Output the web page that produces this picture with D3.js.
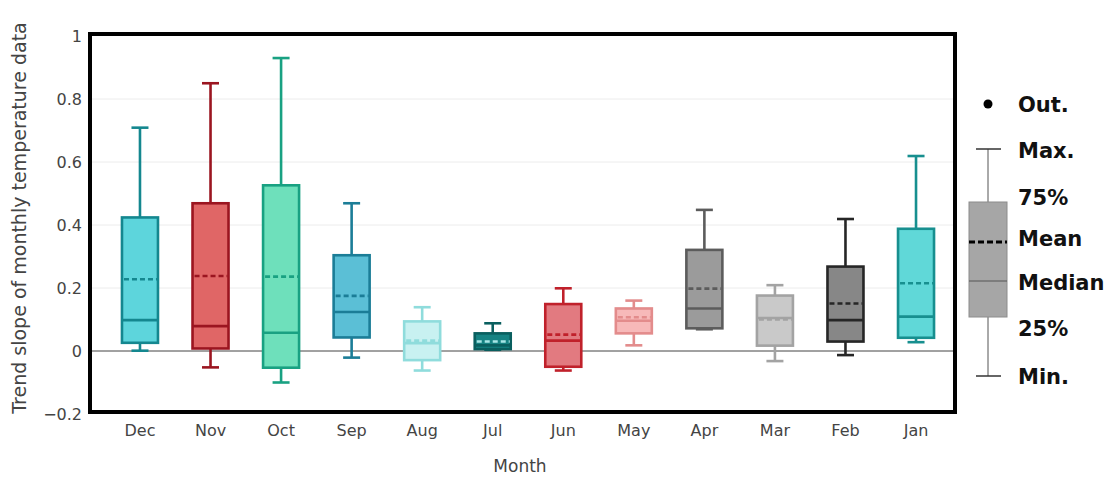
<!DOCTYPE html>
<html><head><meta charset="utf-8">
<script src="https://cdn.jsdelivr.net/npm/d3@7/dist/d3.min.js"></script>
<style>body{margin:0;background:#fff}svg{display:block}</style>
</head><body>
<svg id="c" width="1113" height="477"></svg>
<script>
const months = ["Dec","Nov","Oct","Sep","Aug","Jul","Jun","May","Apr","Mar","Feb","Jan"];
const maxV    = [0.709,0.850,0.930,0.469,0.139,0.088,0.199,0.160,0.448,0.209,0.419,0.619];
const q3V     = [0.424,0.469,0.526,0.304,0.094,0.056,0.149,0.135,0.321,0.176,0.268,0.388];
const meanV   = [0.228,0.238,0.236,0.175,0.033,0.030,0.052,0.107,0.198,0.100,0.151,0.215];
const medianV = [0.098,0.079,0.058,0.124,0.025,0.018,0.033,0.096,0.135,0.105,0.098,0.109];
const q1V     = [0.026,0.008,-0.053,0.043,-0.029,0.006,-0.050,0.056,0.072,0.017,0.030,0.042];
const minV    = [0.001,-0.052,-0.100,-0.021,-0.062,0.004,-0.062,0.018,0.069,-0.032,-0.013,0.028];
const fills   = ["#5dd5dc","#e06666","#6ee0bb","#5bbfd6","#c8f1f1","#168383","#e27a80","#f7b9b9","#9b9b9b","#c9c9c9","#878787","#60d8d8"];
const strokes = ["#14878f","#9b1520","#19a182","#1b7d97","#8fdcdc","#0a5f5f","#c0212b","#e38c8c","#5c5c5c","#a3a3a3","#262626","#178f8f"];
const meanCol = ["#14878f","#9b1520","#19a182","#1b7d97","#8fdcdc","#a8e6e6","#c0212b","#e38c8c","#5c5c5c","#a3a3a3","#262626","#178f8f"];
const yTicks = [-0.2,0,0.2,0.4,0.6,0.8,1];
const legendLabels = ["Out.","Max.","75%","Mean","Median","25%","Min."];

const svg = d3.select("#c");
const x = d3.scaleBand().domain(months).range([104.7, 951.3]).padding(0);
const y = d3.scaleLinear().domain([-0.2, 1]).range([414, 36]);
const bw = 36, cw = 17, sw = 2.6;
const font = "DejaVu Sans, Verdana, sans-serif";

// gridlines
svg.append("g").selectAll("line").data(yTicks.filter(d => d > 0 && d < 1)).join("line")
  .attr("x1", 90).attr("x2", 955).attr("y1", d => y(d)).attr("y2", d => y(d))
  .attr("stroke", "#ececec").attr("stroke-width", 1);
// zero line
svg.append("line").attr("x1", 90).attr("x2", 955).attr("y1", y(0)).attr("y2", y(0))
  .attr("stroke", "#444").attr("stroke-width", 1);

// y axis
const yAxis = d3.axisLeft(y).tickValues(yTicks).tickSize(0).tickPadding(8)
  .tickFormat(d => d === 0 ? "0" : d === 1 ? "1" : (d < 0 ? "\u22120.2" : d3.format(".1f")(d)));
const ya = svg.append("g").attr("transform", "translate(90,0)").call(yAxis);
ya.select(".domain").remove();
ya.selectAll("text").attr("font-family", font).attr("font-size", 16).attr("fill", "#444");

// x axis
const xAxis = d3.axisBottom(x).tickSize(0).tickPadding(11);
const xa = svg.append("g").attr("transform", "translate(0,414)").call(xAxis);
xa.select(".domain").remove();
xa.selectAll("text").attr("font-family", font).attr("font-size", 16).attr("fill", "#444");

// boxes
const data = months.map((m, i) => ({m, i, max: maxV[i], q3: q3V[i], mean: meanV[i], med: medianV[i], q1: q1V[i], min: minV[i]}));
const g = svg.append("g").selectAll("g").data(data).join("g")
  .attr("transform", d => `translate(${x(d.m) + x.bandwidth() / 2},0)`);
g.append("line").attr("y1", d => y(d.max)).attr("y2", d => y(d.q3)).attr("stroke", d => strokes[d.i]).attr("stroke-width", sw);
g.append("line").attr("y1", d => y(d.q1)).attr("y2", d => y(d.min)).attr("stroke", d => strokes[d.i]).attr("stroke-width", sw);
g.append("line").attr("x1", -cw / 2).attr("x2", cw / 2).attr("y1", d => y(d.max)).attr("y2", d => y(d.max)).attr("stroke", d => strokes[d.i]).attr("stroke-width", sw);
g.append("line").attr("x1", -cw / 2).attr("x2", cw / 2).attr("y1", d => y(d.min)).attr("y2", d => y(d.min)).attr("stroke", d => strokes[d.i]).attr("stroke-width", sw);
g.append("rect").attr("x", -bw / 2).attr("width", bw).attr("y", d => y(d.q3)).attr("height", d => y(d.q1) - y(d.q3))
  .attr("fill", d => fills[d.i]).attr("stroke", d => strokes[d.i]).attr("stroke-width", sw);
g.append("line").attr("x1", -bw / 2).attr("x2", bw / 2).attr("y1", d => y(d.med)).attr("y2", d => y(d.med)).attr("stroke", d => strokes[d.i]).attr("stroke-width", sw);
g.append("line").attr("x1", -bw / 2 + 2).attr("x2", bw / 2 - 1).attr("y1", d => y(d.mean)).attr("y2", d => y(d.mean)).attr("stroke", d => meanCol[d.i]).attr("stroke-width", sw).attr("stroke-dasharray", "5,3");

// frame
svg.append("rect").attr("x", 90).attr("y", 34).attr("width", 865).attr("height", 378)
  .attr("fill", "none").attr("stroke", "#000").attr("stroke-width", 4);

// axis titles
svg.append("text").attr("x", 520).attr("y", 472).attr("text-anchor", "middle")
  .attr("font-family", font).attr("font-size", 17).attr("fill", "#444").text("Month");
svg.append("text").attr("transform", "translate(26,218) rotate(-90)").attr("text-anchor", "middle")
  .attr("font-family", font).attr("font-size", 19).attr("fill", "#444").text("Trend slope of monthly temperature data");

// legend
const lg = svg.append("g");
const lx = 988;
lg.append("circle").attr("cx", lx).attr("cy", 104).attr("r", 4.5).attr("fill", "#000");
lg.append("line").attr("x1", lx).attr("x2", lx).attr("y1", 149).attr("y2", 376).attr("stroke", "#555").attr("stroke-width", 1);
lg.append("line").attr("x1", 976).attr("x2", 1001).attr("y1", 149).attr("y2", 149).attr("stroke", "#333").attr("stroke-width", 1.5);
lg.append("line").attr("x1", 976).attr("x2", 1001).attr("y1", 376).attr("y2", 376).attr("stroke", "#333").attr("stroke-width", 1.5);
lg.append("rect").attr("x", 969).attr("y", 202).attr("width", 38).attr("height", 115).attr("fill", "#a6a6a6").attr("stroke", "#8c8c8c").attr("stroke-width", 1);
lg.append("line").attr("x1", 969).attr("x2", 1007).attr("y1", 281).attr("y2", 281).attr("stroke", "#555").attr("stroke-width", 1);
lg.append("line").attr("x1", 969).attr("x2", 1007).attr("y1", 242).attr("y2", 242).attr("stroke", "#000").attr("stroke-width", 3).attr("stroke-dasharray", "6,3");
const ly = [104, 150, 197, 238, 282, 328, 376];
lg.selectAll("text").data(legendLabels).join("text")
  .attr("x", 1018).attr("y", (d, i) => ly[i]).attr("dy", "0.36em")
  .attr("font-family", font).attr("font-weight", "bold").attr("font-size", 21).attr("fill", "#111")
  .text(d => d);
</script>
</body></html>
